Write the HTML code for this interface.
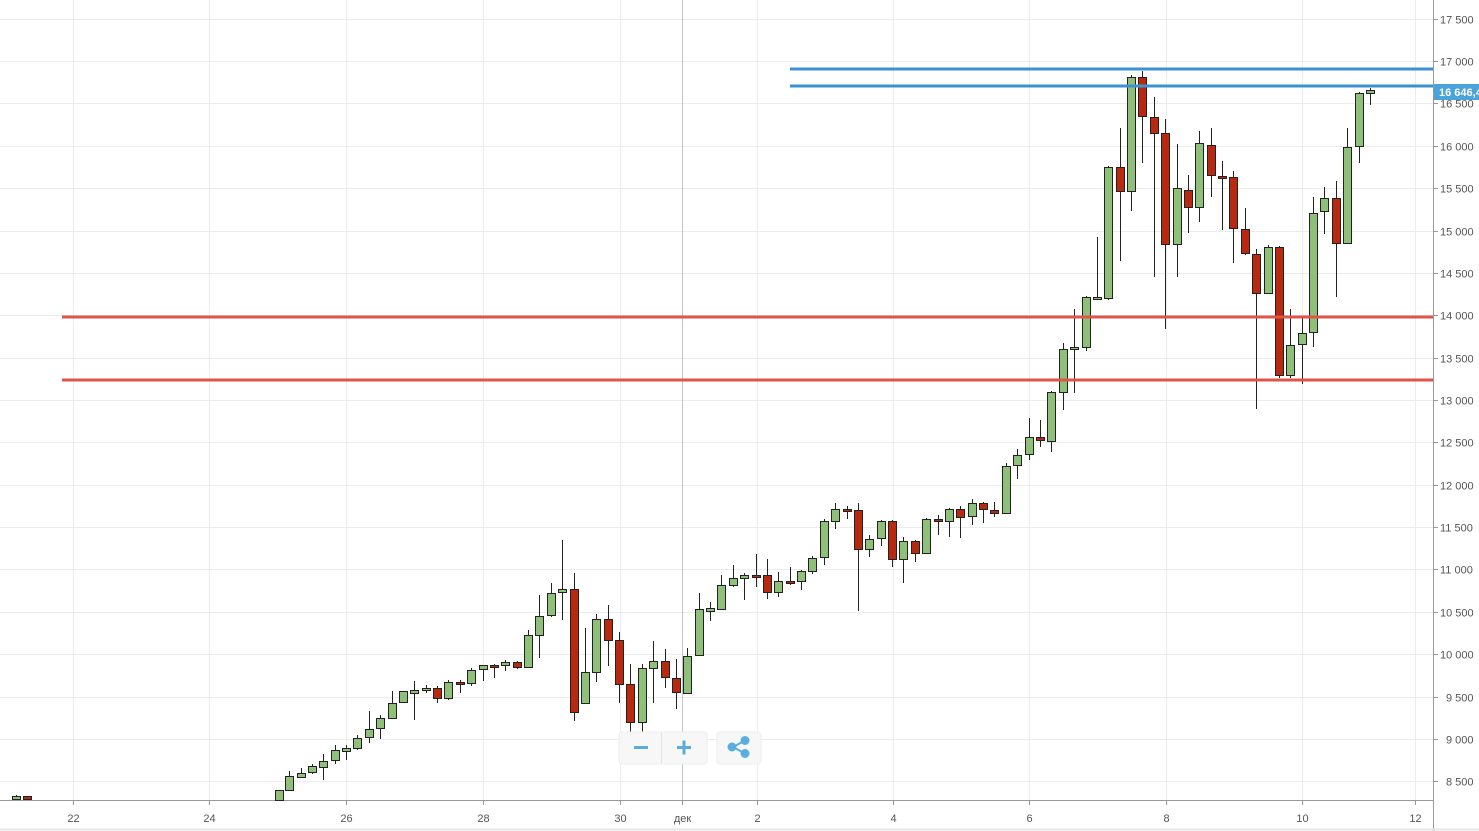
<!DOCTYPE html>
<html><head><meta charset="utf-8"><style>
html,body{margin:0;padding:0;background:#fff;width:1479px;height:831px;overflow:hidden}
svg{display:block;font-family:"Liberation Sans",sans-serif}
</style></head><body>
<svg width="1479" height="831" viewBox="0 0 1479 831" xmlns="http://www.w3.org/2000/svg">
<g stroke="#ececec" stroke-width="1">
<line x1="0" x2="1433" y1="19.5" y2="19.5"/><line x1="0" x2="1433" y1="61.5" y2="61.5"/><line x1="0" x2="1433" y1="103.5" y2="103.5"/><line x1="0" x2="1433" y1="146.5" y2="146.5"/><line x1="0" x2="1433" y1="188.5" y2="188.5"/><line x1="0" x2="1433" y1="231.5" y2="231.5"/><line x1="0" x2="1433" y1="273.5" y2="273.5"/><line x1="0" x2="1433" y1="315.5" y2="315.5"/><line x1="0" x2="1433" y1="358.5" y2="358.5"/><line x1="0" x2="1433" y1="400.5" y2="400.5"/><line x1="0" x2="1433" y1="442.5" y2="442.5"/><line x1="0" x2="1433" y1="485.5" y2="485.5"/><line x1="0" x2="1433" y1="527.5" y2="527.5"/><line x1="0" x2="1433" y1="569.5" y2="569.5"/><line x1="0" x2="1433" y1="612.5" y2="612.5"/><line x1="0" x2="1433" y1="654.5" y2="654.5"/><line x1="0" x2="1433" y1="697.5" y2="697.5"/><line x1="0" x2="1433" y1="739.5" y2="739.5"/><line x1="0" x2="1433" y1="781.5" y2="781.5"/>
<line x1="73.5" x2="73.5" y1="0" y2="800"/><line x1="209.5" x2="209.5" y1="0" y2="800"/><line x1="346.5" x2="346.5" y1="0" y2="800"/><line x1="483.5" x2="483.5" y1="0" y2="800"/><line x1="620.5" x2="620.5" y1="0" y2="800"/><line x1="757.5" x2="757.5" y1="0" y2="800"/><line x1="893.5" x2="893.5" y1="0" y2="800"/><line x1="1029.5" x2="1029.5" y1="0" y2="800"/><line x1="1166.5" x2="1166.5" y1="0" y2="800"/><line x1="1302.5" x2="1302.5" y1="0" y2="800"/><line x1="1415.5" x2="1415.5" y1="0" y2="800"/>
</g>
<line x1="682.5" x2="682.5" y1="0" y2="800" stroke="#c4c4c4"/>
<line x1="0" x2="1433" y1="800.5" y2="800.5" stroke="#999"/>
<line x1="1433.5" x2="1433.5" y1="0" y2="831" stroke="#999"/>
<line x1="0" x2="1479" y1="829.5" y2="829.5" stroke="#e6e6e6" stroke-width="2"/>
<g stroke="#999"><line x1="73.5" x2="73.5" y1="800" y2="805"/><line x1="209.5" x2="209.5" y1="800" y2="805"/><line x1="346.5" x2="346.5" y1="800" y2="805"/><line x1="483.5" x2="483.5" y1="800" y2="805"/><line x1="620.5" x2="620.5" y1="800" y2="805"/><line x1="682.5" x2="682.5" y1="800" y2="805"/><line x1="757.5" x2="757.5" y1="800" y2="805"/><line x1="893.5" x2="893.5" y1="800" y2="805"/><line x1="1029.5" x2="1029.5" y1="800" y2="805"/><line x1="1166.5" x2="1166.5" y1="800" y2="805"/><line x1="1302.5" x2="1302.5" y1="800" y2="805"/><line x1="1415.5" x2="1415.5" y1="800" y2="805"/>
<line x1="1433" x2="1438" y1="19.5" y2="19.5"/><line x1="1433" x2="1438" y1="61.5" y2="61.5"/><line x1="1433" x2="1438" y1="103.5" y2="103.5"/><line x1="1433" x2="1438" y1="146.5" y2="146.5"/><line x1="1433" x2="1438" y1="188.5" y2="188.5"/><line x1="1433" x2="1438" y1="231.5" y2="231.5"/><line x1="1433" x2="1438" y1="273.5" y2="273.5"/><line x1="1433" x2="1438" y1="315.5" y2="315.5"/><line x1="1433" x2="1438" y1="358.5" y2="358.5"/><line x1="1433" x2="1438" y1="400.5" y2="400.5"/><line x1="1433" x2="1438" y1="442.5" y2="442.5"/><line x1="1433" x2="1438" y1="485.5" y2="485.5"/><line x1="1433" x2="1438" y1="527.5" y2="527.5"/><line x1="1433" x2="1438" y1="569.5" y2="569.5"/><line x1="1433" x2="1438" y1="612.5" y2="612.5"/><line x1="1433" x2="1438" y1="654.5" y2="654.5"/><line x1="1433" x2="1438" y1="697.5" y2="697.5"/><line x1="1433" x2="1438" y1="739.5" y2="739.5"/><line x1="1433" x2="1438" y1="781.5" y2="781.5"/></g>
<g font-size="11" fill="#555">
<text x="1440" y="23.5">17 500</text><text x="1440" y="65.5">17 000</text><text x="1440" y="107.5">16 500</text><text x="1440" y="150.5">16 000</text><text x="1440" y="192.5">15 500</text><text x="1440" y="235.5">15 000</text><text x="1440" y="277.5">14 500</text><text x="1440" y="319.5">14 000</text><text x="1440" y="362.5">13 500</text><text x="1440" y="404.5">13 000</text><text x="1440" y="446.5">12 500</text><text x="1440" y="489.5">12 000</text><text x="1440" y="531.5">11 500</text><text x="1440" y="573.5">11 000</text><text x="1440" y="616.5">10 500</text><text x="1440" y="658.5">10 000</text><text x="1446" y="701.5">9 500</text><text x="1446" y="743.5">9 000</text><text x="1446" y="785.5">8 500</text>
</g>
<g font-size="11" fill="#555" text-anchor="middle">
<text x="73.5" y="822">22</text><text x="209.5" y="822">24</text><text x="346.5" y="822">26</text><text x="483.5" y="822">28</text><text x="620.5" y="822">30</text><text x="682.5" y="822">дек</text><text x="757.5" y="822">2</text><text x="893.5" y="822">4</text><text x="1029.5" y="822">6</text><text x="1166.5" y="822">8</text><text x="1302.5" y="822">10</text><text x="1415.5" y="822">12</text>
</g>
<g id="c" stroke="#222" stroke-width="1"></g>
<g stroke-width="3">
<line x1="62" x2="1433" y1="317" y2="317" stroke="#e0544a"/>
<line x1="62" x2="1433" y1="380" y2="380" stroke="#e0544a"/>
<line x1="790" x2="1433" y1="69" y2="69" stroke="#3a93d0"/>
<line x1="790" x2="1433" y1="86" y2="86" stroke="#3a93d0"/>
</g>
<rect x="1434" y="84" width="45" height="16" fill="#4aa3db"/>
<text x="1439" y="96" font-size="11" font-weight="bold" fill="#fff">16 646,4</text>
<g>
<rect x="619" y="732" width="88" height="32" rx="3" fill="#f7f7f7" stroke="#eee"/>
<line x1="661.5" x2="661.5" y1="733" y2="763" stroke="#e4e4e4"/>
<rect x="717" y="732" width="44" height="32" rx="3" fill="#f7f7f7" stroke="#eee"/>
<rect x="634" y="746" width="14" height="3" fill="#5aaedf"/>
<rect x="677" y="746" width="14" height="3" fill="#5aaedf"/><rect x="682.5" y="740.5" width="3" height="14" fill="#5aaedf"/>
<g fill="#5aaedf" stroke="#5aaedf" stroke-width="2"><line x1="733" y1="747" x2="744" y2="741"/><line x1="733" y1="747" x2="744" y2="753"/><circle cx="732" cy="747" r="3.5"/><circle cx="745" cy="740.5" r="3.5"/><circle cx="745" cy="753.5" r="3.5"/></g>
</g>
</svg>
<script>
var d=[[16,"g",796,799,795,800],[27,"r",796,799,796,800],
[279,"g",790,800,790,800],[289,"g",776,790,771,790],[301,"g",773,777,768,778],[312,"g",766,772,764,774],[323,"g",761,767,754,780],[335,"g",750,760,745,764],[346,"g",748,751,745,760],[357,"g",738,748,735,750],[369,"g",729,737,711,743],[380,"g",718,728,715,739],[392,"g",703,718,691,718],[403,"g",691,702,691,703],[414,"g",690,693,681,720],[426,"g",688,690,685,693],[437,"r",688,698,686,703],[448,"g",682,698,680,700],[460,"r",682,684,680,693],[471,"g",670,683,668,686],[483,"g",665,669,665,681],[494,"r",665,667,664,678],[505,"g",662,665,660,671],[517,"r",662,667,661,669],[528,"g",635,667,630,668],[539,"g",616,635,595,658],[551,"g",593,615,583,617],[562,"g",589,592,540,620],[574,"r",589,712,573,721],[585,"g",672,703,628,703],[596,"g",619,672,614,682],[608,"r",619,640,605,666],[619,"r",640,684,632,703],[630,"r",684,722,664,742],[642,"g",668,722,664,732],[653,"g",661,668,641,703],[665,"r",661,677,649,688],[676,"r",678,692,659,709],[687,"g",656,693,648,694],[699,"g",609,655,593,656],[710,"g",608,611,602,621],
[721,"g",585,609,575,610],[733,"g",578,585,565,587],[744,"g",575,578,573,600],[756,"r",575,577,554,587],[767,"r",575,592,559,599],[778,"g",581,592,572,597],[790,"r",581,583,567,585],[801,"g",571,581,570,590],[812,"g",558,571,556,574],[824,"g",521,557,519,565],[835,"g",509,521,503,529],[847,"r",509,511,506,519],[858,"r",510,549,503,611],[869,"g",539,549,535,557],[881,"g",521,538,520,546],[892,"r",521,559,520,567],[903,"g",541,559,537,583],[915,"r",541,553,540,562],[926,"g",519,553,518,554],[938,"r",519,521,515,535],[949,"g",509,521,508,537],[960,"r",509,517,506,538],[972,"g",503,516,499,525],[983,"r",503,509,502,523],[994,"r",510,513,502,517],[1006,"g",466,513,463,514],[1017,"g",455,465,449,479],[1029,"g",437,454,418,460],[1040,"r",437,440,420,447],[1051,"g",392,441,391,452],
[1063,"g",349,392,343,410],[1074,"g",347,349,309,393],[1086,"g",297,347,296,351],[1097,"g",297,299,237,300],[1108,"g",167,298,166,300],[1120,"r",167,191,128,261],[1131,"g",77,191,75,211],[1142,"r",77,116,71,163],[1154,"r",117,133,97,277],[1165,"r",133,244,119,329],[1177,"g",188,244,144,277],[1188,"r",190,207,175,233],[1199,"g",143,207,131,222],[1211,"r",145,175,128,197],[1222,"r",176,178,161,230],[1233,"r",177,228,171,263],[1245,"r",229,253,208,255],[1256,"r",254,293,249,409],[1268,"g",247,293,245,294],[1279,"r",247,375,246,378],[1290,"g",345,375,309,378],[1302,"g",333,344,317,384],[1313,"g",213,332,197,347],[1324,"g",198,211,187,234],[1336,"r",198,243,181,297],[1347,"g",147,243,128,244],[1359,"g",93,146,92,163],[1370,"g",90,93,88,105]];
var s="",g=document.getElementById("c");
d.forEach(function(c){var x=c[0],t=c[2],b=c[3];if(b-t<2)b=t+2;
s+='<line x1="'+(x+.5)+'" x2="'+(x+.5)+'" y1="'+c[4]+'" y2="'+c[5]+'"/>';
s+='<rect x="'+(x-3.5)+'" y="'+(t+.5)+'" width="8" height="'+(b-t)+'" fill="'+(c[1]=="g"?"#8fc07a":"#b8290f")+'"/>';});
g.innerHTML=s;
</script>
</body></html>
